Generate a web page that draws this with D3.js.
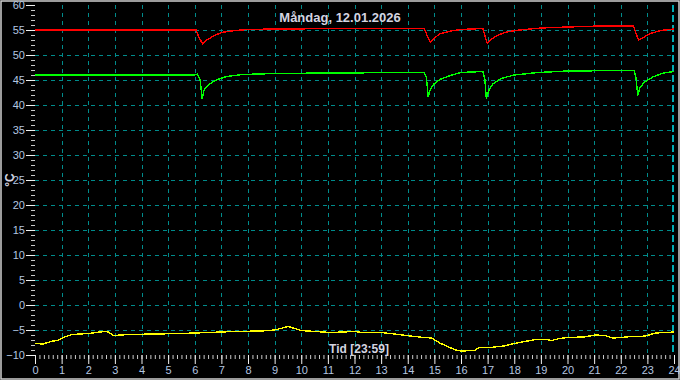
<!DOCTYPE html>
<html>
<head>
<meta charset="utf-8">
<script src="https://cdn.jsdelivr.net/npm/d3@7"></script>
<style>
  html, body { margin: 0; padding: 0; background: #000; }
  svg { display: block; }
</style>
</head>
<body>
<div id="chart"></div>
<script>
const title = 'Måndag, 12.01.2026';
const xLabel = 'Tid [23:59]';
const yLabel = '°C';

const redHours = [0, 3, 6.05, 6.15, 6.3, 6.45, 6.7, 7.0, 7.5, 8.0, 9.0, 12, 14.62, 14.72, 14.85, 15.0, 15.2, 15.6, 16.0, 16.82, 16.9, 16.98, 17.15, 17.4, 17.7, 18.2, 19, 20, 21.2, 22.48, 22.56, 22.67, 22.85, 23.1, 23.5, 24];
const redTemps = [55.0, 55.0, 55.0, 53.6, 52.2, 53.0, 53.8, 54.5, 54.9, 55.1, 55.2, 55.3, 55.3, 54.0, 52.6, 53.4, 54.2, 54.8, 55.1, 55.3, 53.8, 52.4, 53.2, 54.0, 54.6, 55.0, 55.4, 55.6, 55.8, 55.8, 54.5, 53.0, 53.5, 54.3, 54.9, 55.2];

const greenHours = [0, 2, 6.0, 6.1, 6.2, 6.28, 6.35, 6.5, 6.8, 7.2, 7.8, 9, 11, 14.62, 14.7, 14.77, 14.85, 15.0, 15.2, 15.6, 16.0, 16.82, 16.9, 16.95, 17.05, 17.2, 17.5, 18, 18.9, 20, 22.5, 22.57, 22.64, 22.72, 22.9, 23.2, 23.6, 24];
const greenTemps = [46.0, 46.0, 46.0, 46.2, 45.0, 41.3, 43.0, 44.0, 45.0, 45.7, 46.1, 46.3, 46.4, 46.5, 45.5, 41.6, 43.2, 44.3, 45.1, 45.9, 46.5, 46.7, 45.0, 41.3, 43.0, 44.2, 45.3, 46.0, 46.5, 46.8, 46.9, 45.5, 41.9, 43.5, 44.6, 45.6, 46.4, 46.7];

const yellowHours = [0, 0.3, 0.6, 0.9, 1.1, 1.4, 2.0, 2.6, 2.75, 2.95, 3.5, 4.5, 5.5, 6.5, 7.5, 8.5, 9.0, 9.3, 9.5, 9.7, 10.0, 10.5, 11.1, 12.0, 12.3, 13.0, 13.5, 14.1, 14.6, 14.9, 15.2, 15.5, 15.8, 16.0, 16.5, 16.7, 17.1, 17.6, 18.0, 18.5, 18.8, 19.2, 19.4, 19.7, 20.0, 20.6, 21.05, 21.4, 21.7, 22.0, 22.4, 22.8, 23.0, 23.3, 23.7, 24];
const yellowTemps = [-7.7, -7.8, -7.3, -7.0, -6.4, -5.9, -5.7, -5.3, -5.4, -6.1, -5.9, -5.8, -5.7, -5.5, -5.3, -5.2, -5.0, -4.6, -4.3, -4.6, -5.1, -5.3, -5.5, -5.3, -5.5, -5.5, -5.8, -6.2, -6.5, -6.6, -7.6, -8.3, -9.0, -9.2, -9.1, -8.5, -8.5, -8.2, -7.7, -7.2, -6.9, -6.9, -7.1, -6.7, -6.5, -6.4, -6.0, -6.1, -6.6, -6.5, -6.3, -6.3, -6.1, -5.6, -5.5, -5.4];

const xTicks = d3.range(0, 25);
const yTicks = d3.range(-10, 61, 5);

const W = 680, H = 380;
const margin = { top: 5, right: 6, bottom: 25, left: 35 };
const innerW = W - margin.left - margin.right;
const innerH = H - margin.top - margin.bottom;

const svg = d3.select('#chart').append('svg')
  .attr('width', W).attr('height', H)
  .style('font-family', '"Liberation Sans", Arial, sans-serif');

svg.append('rect').attr('width', W).attr('height', H).attr('fill', '#000');
svg.append('rect').attr('x', 1).attr('y', 1).attr('width', W - 2).attr('height', H - 2)
  .attr('fill', 'none').attr('stroke', '#d0d0d0').attr('stroke-width', 1.5);

const g = svg.append('g').attr('transform', `translate(${margin.left},${margin.top})`);

const x = d3.scaleLinear().domain([0, 24]).range([0, innerW]);
const y = d3.scaleLinear().domain([-10, 60]).range([innerH, 0]);

// grid
const gridColor = '#008b8b';
g.append('g').selectAll('line').data(xTicks.filter((d) => d > 0 && d < 24)).join('line')
  .attr('x1', (d) => Math.round(x(d)) + 0.5).attr('x2', (d) => Math.round(x(d)) + 0.5)
  .attr('y1', 0).attr('y2', innerH)
  .attr('stroke', gridColor).attr('stroke-dasharray', '4,4');
g.append('g').selectAll('line').data(yTicks.filter((d) => d > -10 && d < 60)).join('line')
  .attr('x1', 0).attr('x2', innerW)
  .attr('y1', (d) => Math.round(y(d)) + 0.5).attr('y2', (d) => Math.round(y(d)) + 0.5)
  .attr('stroke', gridColor).attr('stroke-dasharray', '4,4');
// now marker
g.append('line')
  .attr('x1', x(24) - 1).attr('x2', x(24) - 1).attr('y1', 0).attr('y2', innerH)
  .attr('stroke', '#00e5ee').attr('stroke-width', 1.5).attr('stroke-dasharray', '7,3');

// axes
const tickColor = '#c8c8c8';
const labelColor = '#b4c6e0';
const yMinor = g.append('g').call(d3.axisLeft(y).tickValues(d3.range(-10, 61, 1)).tickSize(4).tickFormat(''));
const yMajor = g.append('g').call(d3.axisLeft(y).tickValues(yTicks).tickSize(9).tickPadding(1));
const xMinor = g.append('g').attr('transform', `translate(0,${innerH})`)
  .call(d3.axisBottom(x).tickValues(d3.range(0, 24.01, 1 / 6)).tickSize(4).tickFormat(''));
const xMajor = g.append('g').attr('transform', `translate(0,${innerH})`)
  .call(d3.axisBottom(x).tickValues(xTicks).tickSize(9).tickPadding(2));

[yMinor, yMajor, xMinor, xMajor].forEach((a) => {
  a.select('.domain').remove();
  a.selectAll('line').attr('stroke', tickColor);
  a.selectAll('text').attr('fill', labelColor).attr('font-size', 11);
});
yMajor.selectAll('line').attr('stroke', '#f0f0f0');
xMajor.selectAll('line').attr('stroke', '#f0f0f0');

// series
const line = d3.line().x((d) => x(d[0])).y((d) => y(d[1]));
const series = [
  { hours: redHours, temps: redTemps, color: '#ff0000' },
  { hours: greenHours, temps: greenTemps, color: '#00ff00' },
  { hours: yellowHours, temps: yellowTemps, color: '#ffff00' },
];
series.forEach((s) => {
  g.append('path')
    .datum(s.hours.map((h, i) => [h, s.temps[i]]))
    .attr('fill', 'none').attr('stroke', s.color).attr('stroke-width', 1.4)
    .attr('shape-rendering', 'crispEdges')
    .attr('d', line);
});

// texts
svg.append('text').attr('x', 340).attr('y', 22).attr('text-anchor', 'middle')
  .attr('fill', '#d4d4e0').attr('font-size', 13).attr('font-weight', 'bold').text(title);
svg.append('text').attr('x', 359).attr('y', 353).attr('text-anchor', 'middle')
  .attr('fill', '#d4d4e0').attr('font-size', 12).attr('font-weight', 'bold').text(xLabel);
svg.append('text').attr('transform', 'translate(14,180) rotate(-90)').attr('text-anchor', 'middle')
  .attr('fill', '#d4d4e0').attr('font-size', 12).attr('font-weight', 'bold').text(yLabel);
</script>
</body>
</html>
